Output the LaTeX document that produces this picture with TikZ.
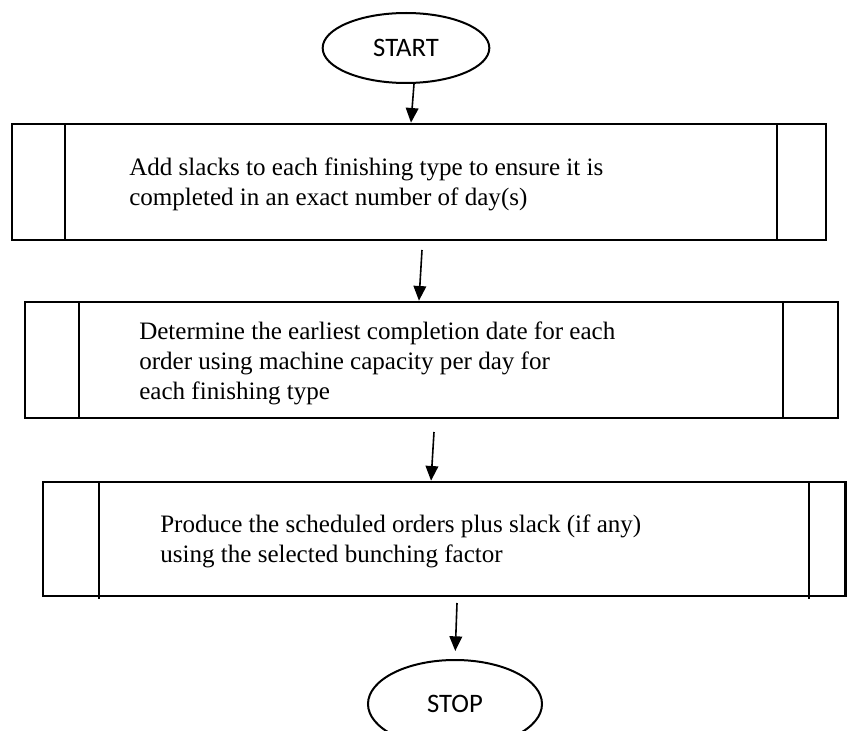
\documentclass[tikz,border=0pt]{standalone}
\usepackage{fontspec}
\setmainfont{Liberation Serif}
\newfontfamily\termfont{Carlito}
\usetikzlibrary{arrows.meta,shapes.geometric}

\tikzset{
  term/.style={ellipse,draw,line width=1.5pt,inner sep=0pt,font=\termfont\fontsize{20}{24}\selectfont},
  procbox/.style={rectangle,draw,line width=2pt,inner sep=0pt},
  sideline/.style={line width=1pt},
  proctext/.style={anchor=north west,inner sep=0pt,align=left,font=\fontsize{18.8}{22.5}\selectfont},
  arr/.style={line width=1.2pt,-{Triangle[length=11pt,width=9.5pt]}}
}

\begin{document}
\begin{tikzpicture}[x=0.75pt,y=-0.75pt]
\useasboundingbox (0,0) rectangle (847,731);

\node[term,minimum width=125pt,minimum height=52.5pt] (start) at (406,48) {START};

\node[procbox,minimum width=610.5pt,minimum height=87pt] (box1) at (419,182) {};
\draw[sideline] (65,124) -- (65,240);
\draw[sideline] (777,124) -- (777,240);
\node[proctext] (txt1) at (129,158) {Add slacks to each finishing type to ensure it is\\completed in an exact number of day(s)};

\node[procbox,minimum width=609.75pt,minimum height=87pt] (box2) at (431.5,360) {};
\draw[sideline] (79,302) -- (79,418);
\draw[sideline] (783,302) -- (783,418);
\node[proctext] (txt2) at (139,322) {Determine the earliest completion date for each\\order using machine capacity per day for\\each finishing type};

\node[procbox,minimum width=601.9pt,minimum height=85.5pt] (box3) at (444.25,539) {};
\draw[sideline] (99,482) -- (99,599);
\draw[sideline] (809,482) -- (809,599);
\node[proctext] (txt3) at (160,515) {Produce the scheduled orders plus slack (if any)\\using the selected bunching factor};

\node[term,minimum width=130.5pt,minimum height=66pt] (stop) at (455,704) {STOP};

% arrows
\coordinate (from2) at (422,250);
\coordinate (from3) at (434,432);
\coordinate (from4) at (457,603);
\draw[arr] ([xshift=6pt]start.south) -- ([xshift=-6pt]box1.north);
\draw[arr] (from2) -- ([xshift=-9.4pt]box2.north);
\draw[arr] (from3) -- ([xshift=-9.9pt]box3.north);
\draw[arr,shorten >=6pt] (from4) -- (stop.north);
\end{tikzpicture}
\end{document}
